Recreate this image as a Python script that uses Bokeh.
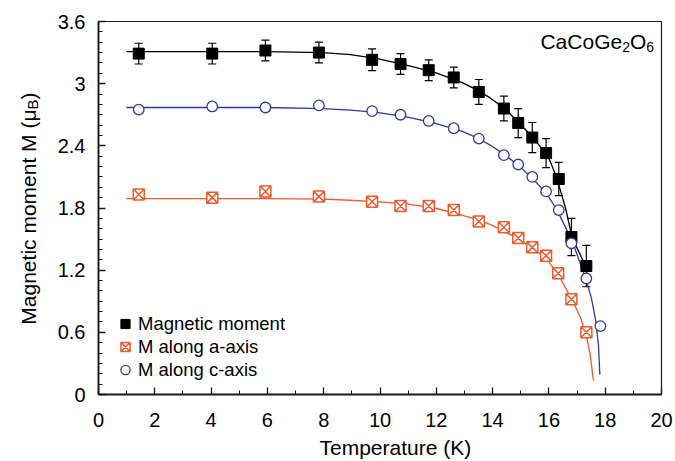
import math
from bokeh.plotting import figure
from bokeh.layouts import row, column
from bokeh.models import (ColumnDataSource, FixedTicker, Whisker, TeeHead,
                          Legend, LegendItem, Label)
from bokeh.embed import file_html
from bokeh.resources import INLINE

# ---------------- data ----------------
T_mag = [1.43, 4.04, 5.93, 7.83, 9.72, 10.73, 11.73, 12.62, 13.51, 14.40,
         14.91, 15.41, 15.90, 16.35, 16.80, 17.33]
M_mag = [3.29, 3.29, 3.32, 3.30, 3.23, 3.19, 3.13, 3.06, 2.92, 2.76,
         2.62, 2.48, 2.33, 2.08, 1.52, 1.24]
M_err = [0.10, 0.10, 0.10, 0.10, 0.105, 0.10, 0.10, 0.10, 0.12, 0.12,
         0.14, 0.145, 0.14, 0.16, 0.18, 0.20]

T_a = [1.43, 4.04, 5.93, 7.83, 9.72, 10.73, 11.73, 12.62, 13.51, 14.40,
       14.91, 15.41, 15.90, 16.33, 16.80, 17.33]
M_a = [1.93, 1.90, 1.96, 1.91, 1.86, 1.82, 1.82, 1.78, 1.67, 1.615,
       1.51, 1.42, 1.34, 1.17, 0.92, 0.60]

T_c = [1.43, 4.04, 5.93, 7.83, 9.72, 10.73, 11.73, 12.62, 13.51, 14.40,
       14.91, 15.41, 15.90, 16.35, 16.80, 17.33, 17.83]
M_c = [2.75, 2.78, 2.77, 2.79, 2.735, 2.70, 2.64, 2.57, 2.47, 2.31,
       2.22, 2.10, 1.96, 1.78, 1.46, 1.12, 0.66]

# fitted curves
T_fit_mag = [0.99, 3.98, 5.97, 7.96, 8.95, 9.95, 10.94, 11.94, 12.93, 13.43,
             13.93, 14.42, 14.92, 15.42, 15.92, 16.05, 16.29, 16.59, 16.83,
             17.11, 17.30, 17.36]
M_fit_mag = [3.31, 3.31, 3.31, 3.30, 3.28, 3.24, 3.18, 3.11, 3.01, 2.94,
             2.86, 2.76, 2.63, 2.48, 2.32, 2.25, 2.08, 1.80, 1.51,
             1.35, 1.24, 1.15]

T_fit_c = [0.99, 3.98, 5.97, 7.96, 8.95, 9.95, 10.94, 11.94, 12.93, 13.43,
           13.93, 14.42, 14.92, 15.42, 15.92, 16.31, 16.81, 17.11, 17.31,
           17.51, 17.66, 17.76, 17.81]
M_fit_c = [2.77, 2.77, 2.77, 2.76, 2.745, 2.72, 2.68, 2.62, 2.54, 2.48,
           2.405, 2.315, 2.21, 2.085, 1.94, 1.77, 1.49, 1.27, 1.12,
           0.93, 0.72, 0.48, 0.19]

T_fit_a = [0.99, 3.98, 5.97, 7.96, 8.95, 9.95, 10.94, 11.94, 12.93, 13.43,
           13.93, 14.42, 14.92, 15.42, 15.92, 16.31, 16.81, 17.11, 17.31,
           17.46, 17.58]
M_fit_a = [1.89, 1.89, 1.89, 1.885, 1.875, 1.86, 1.84, 1.80, 1.73, 1.69,
           1.64, 1.575, 1.50, 1.41, 1.31, 1.165, 0.92, 0.75, 0.59,
           0.40, 0.135]

legend_labels = ["Magnetic moment", "M along a-axis", "M along c-axis"]

x_ticks = [0, 2, 4, 6, 8, 10, 12, 14, 16, 18, 20]
x_minor = list(range(0, 21))
y_ticks = [0, 0.6, 1.2, 1.8, 2.4, 3.0, 3.6]
y_tick_labels = ["0", "0.6", "1.2", "1.8", "2.4", "3", "3.6"]
y_minor = [round(0.1 * i, 1) for i in range(0, 37)]

FONT = "Liberation Sans"
RED = "#EF5A2C"
BLUE = "#2E3A9D"
AX = "#1a1a1a"

W, H = 675, 461
LEFT_W = 50    # strip holding the y-axis title
BOT_H = 24     # strip holding the x-axis title
FRAME_L, FRAME_R, FRAME_T, FRAME_B = 98, 661, 21, 394
BASE_FIX = 6   # Bokeh draws "alphabetic" labels a little lower than asked


def strip(width, height):
    f = figure(width=width, height=height, x_range=(0, width), y_range=(0, height),
               title=None, output_backend="svg", toolbar_location=None,
               x_axis_type=None, y_axis_type=None,
               min_border_left=0, min_border_right=0,
               min_border_top=0, min_border_bottom=0)
    f.outline_line_color = None
    f.xgrid.visible = False
    f.ygrid.visible = False
    f.background_fill_color = "white"
    f.border_fill_color = "white"
    return f


# ---------------- main figure ----------------
p = figure(width=W - LEFT_W, height=H - BOT_H, x_range=(0, 20), y_range=(0, 3.6),
           title=None, output_backend="svg", toolbar_location=None,
           min_border_left=FRAME_L - LEFT_W, min_border_right=W - FRAME_R,
           min_border_top=FRAME_T, min_border_bottom=H - BOT_H - FRAME_B)
p.xgrid.visible = False
p.ygrid.visible = False
p.outline_line_color = AX
p.outline_line_width = 1.2
p.background_fill_color = "white"
p.border_fill_color = "white"

p.xaxis.ticker = FixedTicker(ticks=x_ticks, minor_ticks=x_minor)
p.yaxis.ticker = FixedTicker(ticks=y_ticks, minor_ticks=y_minor)
p.yaxis.major_label_overrides = {t: l for t, l in zip(y_ticks, y_tick_labels)}

for ax in (p.xaxis[0], p.yaxis[0]):
    ax.axis_line_color = AX
    ax.axis_line_width = 1.8
    ax.major_tick_in = 7
    ax.major_tick_out = 0
    ax.minor_tick_in = 4
    ax.minor_tick_out = 0
    ax.major_tick_line_color = AX
    ax.minor_tick_line_color = AX
    ax.major_tick_line_width = 1.3
    ax.minor_tick_line_width = 1.1
    ax.major_label_text_font = FONT
    ax.major_label_text_font_size = "20px"
    ax.major_label_text_color = "black"

p.xaxis.major_label_standoff = 18
p.yaxis.major_label_standoff = 13

# ---------------- curves ----------------
p.line(T_fit_mag, M_fit_mag, line_color="black", line_width=1.3)
p.line(T_fit_c, M_fit_c, line_color=BLUE, line_width=1.3)
p.line(T_fit_a, M_fit_a, line_color=RED, line_width=1.3)

src_mag = ColumnDataSource(dict(
    T=T_mag, M=M_mag,
    lo=[m - e for m, e in zip(M_mag, M_err)],
    hi=[m + e for m, e in zip(M_mag, M_err)]))

w = Whisker(source=src_mag, base="T", lower="lo", upper="hi",
            dimension="height", line_color="black", line_width=1.2,
            upper_head=TeeHead(size=8, line_color="black", line_width=1.2),
            lower_head=TeeHead(size=8, line_color="black", line_width=1.2))
p.add_layout(w)

r_mag = p.scatter("T", "M", source=src_mag, marker="square", size=11,
                  fill_color="black", line_color="black")
r_a = p.scatter(T_a, M_a, marker="square_x", size=11, fill_color="white",
                line_color=RED, line_width=1.5)
r_c = p.scatter(T_c, M_c, marker="circle", size=10.5, fill_color="white",
                line_color=BLUE, line_width=1.3)

legend = Legend(items=[LegendItem(label=legend_labels[0], renderers=[r_mag]),
                       LegendItem(label=legend_labels[1], renderers=[r_a]),
                       LegendItem(label=legend_labels[2], renderers=[r_c])],
                location=(15, 13), orientation="vertical",
                glyph_width=24, glyph_height=23, label_standoff=1,
                spacing=0, padding=0, margin=0,
                background_fill_alpha=0, border_line_alpha=0,
                label_text_font=FONT, label_text_font_size="18.5px",
                label_text_color="black")
p.add_layout(legend)

# ---------------- compound label ----------------
cx, cy = 15.70, 3.32
pieces = [("CaCoGe", 0, 0, "21px"), ("2", 81.7, -5, "14px"),
          ("O", 89.5, 0, "21px"), ("6", 105.8, -5, "14px")]
for txt, dx, dy, fs in pieces:
    p.add_layout(Label(x=cx, y=cy, x_offset=dx, y_offset=dy + BASE_FIX + 3, text=txt,
                       text_align="left", text_baseline="alphabetic",
                       text_font=FONT, text_font_size=fs, text_color="black"))

# ---------------- y axis title strip (with subscript) ----------------
lab = strip(LEFT_W, H)
ax_x, ax_y = 34 - BASE_FIX, H - 109   # baseline position inside the strip
lab.add_layout(Label(x=ax_x, y=ax_y, text="Magnetic moment M (\u03bc", angle=math.pi / 2,
                     text_align="right", text_baseline="alphabetic",
                     text_font=FONT, text_font_size="21px", text_color="black"))
lab.add_layout(Label(x=ax_x, y=ax_y, x_offset=4, text="B", angle=math.pi / 2,
                     text_align="left", text_baseline="alphabetic",
                     text_font=FONT, text_font_size="15px", text_color="black"))
lab.add_layout(Label(x=ax_x, y=ax_y, y_offset=10, text=")", angle=math.pi / 2,
                     text_align="left", text_baseline="alphabetic",
                     text_font=FONT, text_font_size="21px", text_color="black"))

# ---------------- x axis title strip ----------------
bot = strip(W - LEFT_W, BOT_H)
bot.add_layout(Label(x=(FRAME_L + FRAME_R) / 2 - LEFT_W, y=H - 453 + BASE_FIX,
                     text="Temperature (K)", text_align="center",
                     text_baseline="alphabetic", text_font=FONT,
                     text_font_size="21px", text_color="black"))

layout = row(lab, column(p, bot, spacing=0), spacing=0)
open("out.html", "w").write(file_html(layout, INLINE))
